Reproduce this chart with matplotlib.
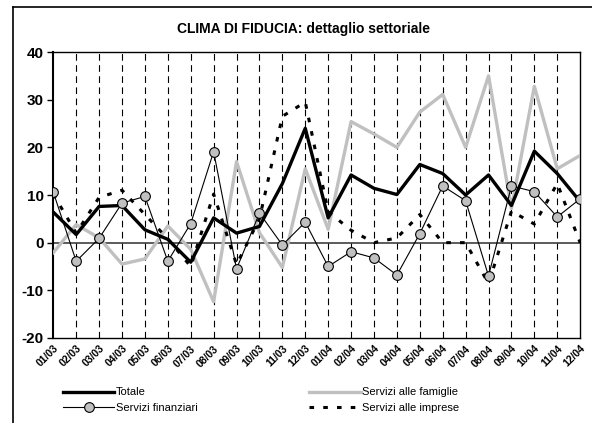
import matplotlib
matplotlib.use("Agg")
import matplotlib.pyplot as plt
from matplotlib.lines import Line2D

plt.rcParams['font.family'] = ['Liberation Sans', 'DejaVu Sans']
plt.rcParams['axes.unicode_minus'] = False

months = ["01/03", "02/03", "03/03", "04/03", "05/03", "06/03", "07/03", "08/03", "09/03", "10/03", "11/03", "12/03",
          "01/04", "02/04", "03/04", "04/04", "05/04", "06/04", "07/04", "08/04", "09/04", "10/04", "11/04", "12/04"]
totale = [6.4, 1.7, 7.6, 7.8, 2.7, 0.7, -4.1, 5.2, 2.0, 3.4, 12.4, 24.0,
          5.2, 14.2, 11.4, 10.1, 16.4, 14.5, 10.0, 14.2, 7.8, 19.2, 14.5, 8.6]
famiglie = [-2.1, 3.8, 1.0, -4.5, -3.4, 3.5, -1.4, -12.4, 17.0, 2.1, -5.2, 15.5,
            2.8, 25.4, 22.8, 20.0, 27.4, 31.1, 20.0, 35.0, 7.2, 32.8, 15.5, 18.3]
finanziari = [10.6, -3.9, 0.9, 8.3, 9.7, -3.9, 4.0, 19.1, -5.5, 6.2, -0.5, 4.3,
              -5.0, -1.9, -3.2, -6.8, 1.9, 11.9, 8.8, -7.0, 11.9, 10.7, 5.4, 9.2]
imprese = [10.2, 2.0, 9.5, 11.0, 5.9, 0.8, -5.0, 10.2, -4.6, 5.0, 26.5, 29.5,
           6.5, 2.6, 0.0, 1.0, 5.9, 0.0, 0.0, -8.6, 6.6, 3.9, 12.4, 0.0]

x = list(range(len(months)))

fig = plt.figure(figsize=(5.92, 4.23), dpi=100)
ax = fig.add_axes([0.090, 0.201, 0.890, 0.676])

for xi in x[1:-1]:
    ax.axvline(xi, color="black", lw=0.8, ls=(0, (6, 4)), zorder=1)
ax.axhline(0, color="#404040", lw=1.2, zorder=1)

l1, = ax.plot(x, totale, color="black", lw=2.4, zorder=4, label="Totale")
l2, = ax.plot(x, famiglie, color="#c0c0c0", lw=2.4, zorder=3, label="Servizi alle famiglie")
l3, = ax.plot(x, finanziari, color="black", lw=0.8, marker="o", ms=7, mfc="#c0c0c0", mec="black", mew=0.8,
              zorder=5, label="Servizi finanziari")
l4, = ax.plot(x, imprese, color="black", lw=2.2, ls=(0, (1.5, 3)), zorder=4, label="Servizi alle imprese")

ax.set_xlim(0, len(months) - 1)
ax.set_ylim(-20, 40)
ax.set_yticks([-20, -10, 0, 10, 20, 30, 40])
ax.set_xticks(x)
ax.set_xticklabels(months, rotation=45, ha="right", rotation_mode="anchor", fontsize=7.5, fontweight="bold")
for lab in ax.get_yticklabels():
    lab.set_fontweight("bold")
    lab.set_fontsize(11)
ax.tick_params(axis="y", length=4, width=1, pad=3)
ax.tick_params(axis="x", length=0, pad=4)
for s in ax.spines.values():
    s.set_linewidth(1)
ax.spines["left"].set_linewidth(1.5)

fig.text(0.513, 0.932, "CLIMA DI FIDUCIA: dettaglio settoriale", ha="center", va="center",
         fontsize=10, fontweight="bold")

# ncol fills column-wise, so order gives rows: Totale/famiglie, finanziari/imprese
fig.legend(handles=[l1, l3, l2, l4], loc="lower left", bbox_to_anchor=(0.09, 0.0), ncol=2,
           frameon=False, fontsize=8, handlelength=4.6, columnspacing=10.1, handletextpad=0.1,
           labelspacing=0.5)

fig.add_artist(Line2D([13 / 592, 13 / 592], [0, 1 - 7 / 423], color="black", lw=1.2))
fig.add_artist(Line2D([13 / 592, 1], [1 - 7 / 423, 1 - 7 / 423], color="black", lw=1.2))

fig.savefig("out.png", dpi=100)
